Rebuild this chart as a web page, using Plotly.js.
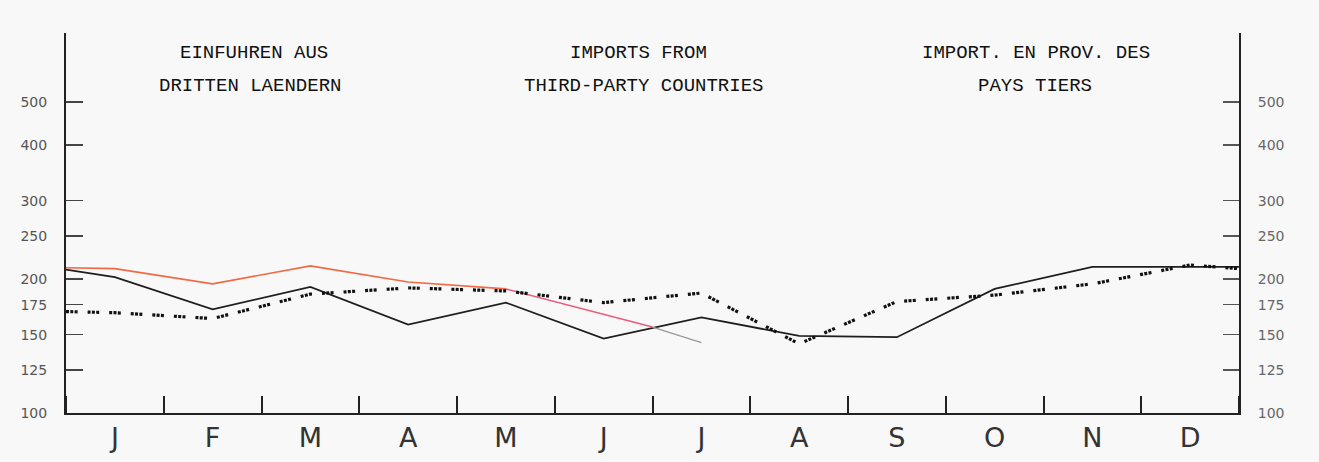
<!DOCTYPE html>
<html>
<head>
<meta charset="utf-8">
<script src="https://cdn.plot.ly/plotly-3.0.1.min.js"></script>
<style>
  html, body { margin: 0; padding: 0; background: #f8f8f8; }
  #chart { width: 1319px; height: 462px; }
</style>
</head>
<body>
<div id="chart"></div>
<script>
// ---- data ----
const months = ['J','F','M','A','M','J','J','A','S','O','N','D'];
const yTickValues = [100, 125, 150, 175, 200, 250, 300, 400, 500];
const yTickLabels = ['100', '125', '150', '175', '200', '250', '300', '400', '500'];

// solid black series: value carried in at the left edge, monthly values, value at right edge
const solidCarryIn = 210;
const solidMonthly = [202, 171, 192, 158, 177, 147, 164, 149, 148, 190, 213, 213];
const solidCarryOut = 213;

// dotted black series
const dottedCarryIn = 169;
const dottedMonthly = [168, 163, 185, 191, 188, 177, 186, 143, 178, 184, 195, 215];
const dottedCarryOut = 211;

// red series (current year, Jan-Jun), then grey continuation to July
const redCarryIn = 212;
const redMonthly = [211, 195, 214, 197, 190, 167];
const redAtJuneEnd = 156;
const greyJuly = 144;

const titlesDE = ['EINFUHREN AUS', 'DRITTEN LAENDERN'];
const titlesEN = ['IMPORTS FROM', 'THIRD-PARTY COUNTRIES'];
const titlesFR = ['IMPORT. EN PROV. DES', 'PAYS TIERS'];

// ---- build traces ----
const n = months.length;
const centers = months.map((_, i) => i + 0.5);
const fullX = [0].concat(centers, [n]);

const solidY = [solidCarryIn].concat(solidMonthly, [solidCarryOut]);
const dottedY = [dottedCarryIn].concat(dottedMonthly, [dottedCarryOut]);
const redY = [redCarryIn].concat(redMonthly);
const redX = [0].concat(centers.slice(0, redMonthly.length));

// split red into orange part (to May) and pink part (May to end of June)
const splitIdx = 5; // index in redX of May centre
const orangeX = redX.slice(0, splitIdx + 1);
const orangeY = redY.slice(0, splitIdx + 1);
const pinkX = redX.slice(splitIdx).concat([redMonthly.length]);
const pinkY = redY.slice(splitIdx).concat([redAtJuneEnd]);
const greyX = [redMonthly.length, centers[redMonthly.length]];
const greyYv = [redAtJuneEnd, greyJuly];

const traces = [
  { x: fullX, y: solidY, type: 'scatter', mode: 'lines',
    line: { color: '#1e1e1e', width: 1.8 }, hoverinfo: 'skip', showlegend: false },
  { x: orangeX, y: orangeY, type: 'scatter', mode: 'lines',
    line: { color: '#f06a45', width: 1.6 }, hoverinfo: 'skip', showlegend: false },
  { x: pinkX, y: pinkY, type: 'scatter', mode: 'lines',
    line: { color: '#ec5a7c', width: 1.5 }, hoverinfo: 'skip', showlegend: false },
  { x: greyX, y: greyYv, type: 'scatter', mode: 'lines',
    line: { color: '#9a9a9a', width: 1.3 }, hoverinfo: 'skip', showlegend: false },
  { x: fullX, y: dottedY, type: 'scatter', mode: 'lines',
    line: { color: '#111111', width: 3.2, dash: '3px,1.3px,3px,1.3px,3px,10px' },
    hoverinfo: 'skip', showlegend: false },
  // invisible trace to activate the right-hand axis
  { x: fullX, y: solidY, yaxis: 'y2', type: 'scatter', mode: 'lines',
    line: { width: 0 }, opacity: 0, hoverinfo: 'skip', showlegend: false }
];

// ---- layout ----
const L = 66, R = 1239, T = 33, B = 413;
const px = x => (x - L) / (R - L);
const py = y => (B - y) / (B - T);
const titleFont = { family: 'Liberation Mono, DejaVu Sans Mono, monospace', size: 19, color: '#111' };

function titleAnn(text, cx, cy) {
  return { text: text, xref: 'paper', yref: 'paper', x: px(cx), y: py(cy),
    xanchor: 'center', yanchor: 'middle', showarrow: false, font: titleFont };
}

const annotations = [
  titleAnn(titlesDE[0], 254, 53), titleAnn(titlesDE[1], 250, 86),
  titleAnn(titlesEN[0], 638, 53), titleAnn(titlesEN[1], 643, 86),
  titleAnn(titlesFR[0], 1036, 53), titleAnn(titlesFR[1], 1035, 86)
];

const yRange = [2, Math.log10(714)];
const tickFont = { family: 'DejaVu Sans, sans-serif', size: 14, color: '#555' };

const layout = {
  width: 1319, height: 462,
  margin: { l: L, r: 1319 - R, t: T, b: 462 - B, pad: 0 },
  paper_bgcolor: '#f8f8f8',
  plot_bgcolor: '#f8f8f8',
  showlegend: false,
  xaxis: {
    range: [0, n], showgrid: false, zeroline: false,
    showline: true, linecolor: '#222', linewidth: 2,
    tickmode: 'array', tickvals: centers, ticktext: months,
    ticks: '', ticklabelstandoff: 0,
    tickfont: { family: 'DejaVu Sans, sans-serif', size: 27, color: '#333' },
    minor: { tickmode: 'linear', tick0: 0, dtick: 1, ticks: 'inside', ticklen: 17,
      tickwidth: 2, tickcolor: '#222', showgrid: false }
  },
  yaxis: {
    type: 'log', range: yRange, showgrid: false, zeroline: false,
    showline: true, linecolor: '#222', linewidth: 2,
    tickmode: 'array', tickvals: yTickValues, ticktext: yTickLabels,
    ticks: 'inside', ticklen: 17, tickwidth: 1.3, tickcolor: '#444',
    tickfont: tickFont, ticklabelstandoff: 14
  },
  yaxis2: {
    type: 'log', range: yRange, overlaying: 'y', side: 'right', anchor: 'x',
    showgrid: false, zeroline: false,
    showline: true, linecolor: '#222', linewidth: 2,
    tickmode: 'array', tickvals: yTickValues, ticktext: yTickLabels,
    ticks: 'inside', ticklen: 16, tickwidth: 1.3, tickcolor: '#555',
    tickfont: { family: 'DejaVu Sans, sans-serif', size: 14, color: '#666' },
    ticklabelstandoff: 14
  },
  annotations: annotations
};

Plotly.newPlot('chart', traces, layout, { displayModeBar: false, staticPlot: true });
</script>
</body>
</html>
